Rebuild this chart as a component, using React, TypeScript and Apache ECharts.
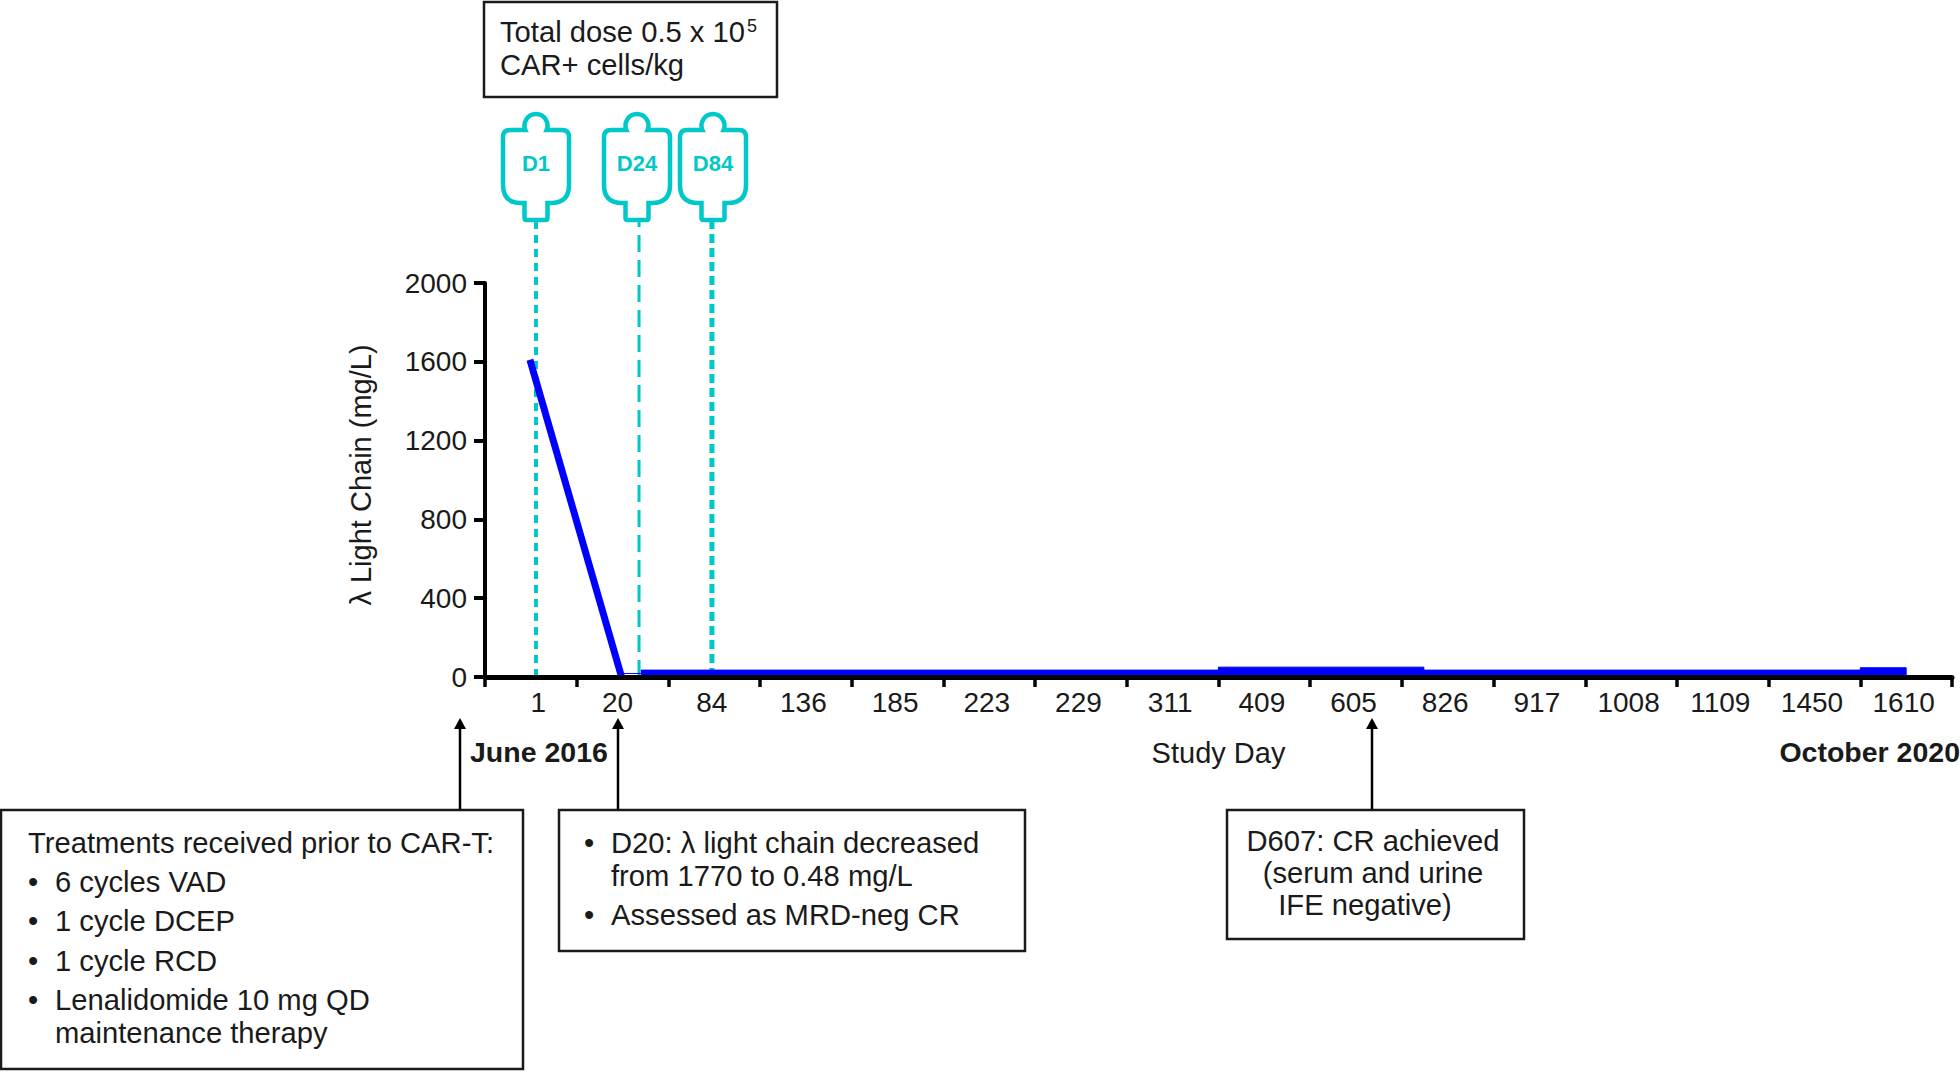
import React, { useEffect, useRef } from "react";
import * as echarts from "echarts";

const studyDays = ["1","20","84","136","185","223","229","311","409","605","826","917","1008","1109","1450","1610"];
const yTickStep = 400;
const yMax = 2000;
// x is measured in category bands from the left of the axis
const declinePoints = [[0.49,1610],[1.49,0]];
const connectorPoints = [[1.49,18],[1.7,18]];
const plateauPoints = [[1.7,35],[8,35],[8,50],[10.24,50],[10.24,35],[15,35],[15,47],[15.5,47],[15.5,0]];
const infusionD1 = [[0.556,0],[0.556,2310]];
const infusionD24 = [[1.68,0],[1.68,2310]];
const infusionD84 = [[2.475,0],[2.475,2310]];

const bagLabels = ["D1","D24","D84"];
const bagCentres = [536,637,713];
const doseLines = ["Total dose 0.5 x 10","CAR+ cells/kg"];
const priorLines = ["Treatments received prior to CAR-T:"];
const priorBullets = ["6 cycles VAD","1 cycle DCEP","1 cycle RCD","Lenalidomide 10 mg QD"];
const priorContinuation = "maintenance therapy";
const d20Lines = ["D20: λ light chain decreased","from 1770 to 0.48 mg/L","Assessed as MRD-neg CR"];
const d607Lines = ["D607: CR achieved","(serum and urine","IFE negative)"];

const FONT = '"Liberation Sans", Arial, sans-serif';
const INK = "#1a1a1a";
const TEAL = "#00c8c8";
const BLUE = "#0000ff";
const BODY = 29.2;

const bagPath =
  "M -10.6 18 L -26 18 Q -33 18 -33 25 L -33 73 Q -33 91 -15 91 L -11.5 91 L -11.5 106 Q -11.5 108 -9.5 108 L 9.5 108 Q 11.5 108 11.5 106 L 11.5 91 L 15 91 Q 33 91 33 73 L 33 25 Q 33 18 26 18 L 10.6 18 A 11.5 11.5 0 1 0 -10.6 18 Z";
echarts.graphic.registerShape("ivbag", echarts.graphic.extendPath(bagPath, {}));

const txt = (text: string, x: number, y: number, o: any = {}) => ({
  type: "text",
  x,
  y,
  silent: true,
  style: {
    text,
    fill: o.fill || INK,
    font: `${o.bold ? "bold " : ""}${o.size || BODY}px ${FONT}`,
    align: o.align || "left",
    verticalAlign: "middle",
  },
});
const box = (x: number, y: number, w: number, h: number) => ({
  type: "rect",
  shape: { x, y, width: w, height: h },
  silent: true,
  style: { fill: "#ffffff", stroke: INK, lineWidth: 2.5 },
});
const arrow = (x: number, tip: number, base: number) => [
  { type: "line", silent: true, shape: { x1: x, y1: tip + 8, x2: x, y2: base }, style: { stroke: "#000", lineWidth: 2.5 } },
  { type: "polygon", silent: true, shape: { points: [[x, tip], [x - 6, tip + 11], [x + 6, tip + 11]] }, style: { fill: "#000" } },
];

export default function App() {
  const ref = useRef<HTMLDivElement>(null);
  useEffect(() => {
    const chart = echarts.init(ref.current!, undefined, { renderer: "svg" });
    const dash = (name: string, data: number[][], width: number, d: number[]) => ({
      name,
      type: "line",
      xAxisIndex: 1,
      data,
      clip: false,
      symbol: "none",
      silent: true,
      z: 2,
      lineStyle: { color: TEAL, width, type: d },
    });
    const elements: any[] = [
      box(484, 2, 293, 95),
      txt(doseLines[0], 500, 32),
      txt("5", 747, 26, { size: 18 }),
      txt(doseLines[1], 500, 65),
      ...bagCentres.flatMap((x, i) => [
        { type: "ivbag", x, y: 112, silent: true, style: { fill: "none", stroke: TEAL, lineWidth: 4.5 } },
        txt(bagLabels[i], x, 163, { size: 22, bold: true, fill: TEAL, align: "center" }),
      ]),
      txt("June 2016", 470, 752, { bold: true, size: 28.5 }),
      txt("October 2020", 1960, 752, { bold: true, size: 28.5, align: "right" }),
      ...arrow(460, 718, 810),
      ...arrow(618, 718, 810),
      ...arrow(1372, 718, 810),
      box(1, 810, 522, 259),
      txt(priorLines[0], 28, 843),
      ...priorBullets.flatMap((t, i) => [
        txt("•", 28, 882 + i * 39.3),
        txt(t, 55, 882 + i * 39.3),
      ]),
      txt(priorContinuation, 55, 1033),
      box(559, 810, 466, 141),
      txt("•", 584, 843),
      txt(d20Lines[0], 611, 843),
      txt(d20Lines[1], 611, 876),
      txt("•", 584, 915),
      txt(d20Lines[2], 611, 915),
      box(1227, 810, 297, 129),
      txt(d607Lines[0], 1373, 841, { align: "center" }),
      txt(d607Lines[1], 1373, 873, { align: "center" }),
      txt(d607Lines[2], 1365, 905, { align: "center" }),
    ];
    const labelStyle = { color: INK, fontSize: 28, fontFamily: FONT };
    chart.setOption({
      animation: false,
      backgroundColor: "#ffffff",
      grid: { left: 485, right: 8, top: 283, bottom: 395, containLabel: false },
      xAxis: [
        {
          type: "category",
          data: studyDays,
          boundaryGap: true,
          z: 5,
          name: "Study Day",
          nameLocation: "middle",
          nameGap: 61,
          nameTextStyle: { color: INK, fontSize: 29, fontFamily: FONT },
          axisLine: { lineStyle: { color: "#000", width: 5 } },
          axisTick: { show: true, length: 10, alignWithLabel: false, interval: 0, lineStyle: { color: "#000", width: 3.5 } },
          axisLabel: {
            interval: 0,
            margin: 11,
            ...labelStyle,
            padding: [0, 5, 0, 0],
            formatter: (v: string) => (v === studyDays[0] ? `{first|${v}}` : v === studyDays[1] ? `{second|${v}}` : v),
            rich: {
              first: { ...labelStyle, padding: [0, 0, 0, 20] },
              second: { ...labelStyle, padding: [0, 5, 0, 0] },
            },
          },
          splitLine: { show: false },
        },
        { type: "value", min: 0, max: studyDays.length, show: false, splitLine: { show: false } },
      ],
      yAxis: {
        type: "value",
        min: 0,
        max: yMax,
        interval: yTickStep,
        name: "λ Light Chain (mg/L)",
        nameLocation: "middle",
        nameGap: 110,
        nameTextStyle: { color: INK, fontSize: 29, fontFamily: FONT, padding: [0, 0, 0, 10] },
        axisLine: { show: true, onZero: false, lineStyle: { color: "#000", width: 4 } },
        axisTick: { show: true, length: 11, lineStyle: { color: "#000", width: 4 } },
        axisLabel: { ...labelStyle, margin: 18, formatter: (v: number) => String(v) },
        splitLine: { show: false },
      },
      series: [
        dash("D1", infusionD1, 4, [8, 6]),
        dash("D24", infusionD24, 3, [17, 8]),
        dash("D84", infusionD84, 5, [9, 5]),
        { name: "λ light chain", type: "line", xAxisIndex: 1, data: declinePoints, symbol: "none", silent: true, z: 3, lineStyle: { color: BLUE, width: 7, cap: "butt" } },
        { name: "connector", type: "line", xAxisIndex: 1, data: connectorPoints, symbol: "none", silent: true, z: 6, lineStyle: { color: BLUE, width: 1 } },
        { name: "plateau", type: "line", xAxisIndex: 1, data: plateauPoints, symbol: "none", silent: true, z: 3, lineStyle: { color: BLUE, width: 1, join: "miter", cap: "butt" }, areaStyle: { color: BLUE, opacity: 1 } },
      ],
      graphic: { elements },
    });
    return () => chart.dispose();
  }, []);
  return <div ref={ref} style={{ position: "fixed", left: 0, top: 0, width: 1960, height: 1072 }} />;
}
